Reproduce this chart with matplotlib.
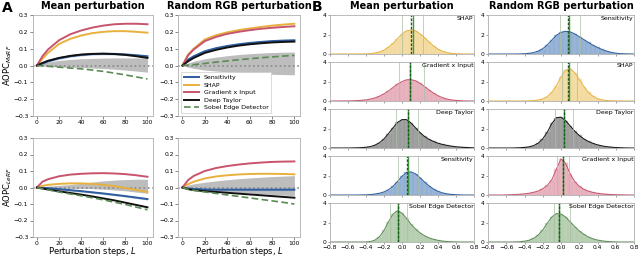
import numpy as np
import matplotlib.pyplot as plt

# ---------------- panel A data: AOPC vs perturbation steps ----------------
steps = [0, 5, 10, 20, 30, 40, 50, 60, 70, 80, 90, 100]

# MoRF, mean perturbation
morf_mean_sens = [0, 0.012, 0.025, 0.043, 0.055, 0.063, 0.068, 0.070, 0.069, 0.066, 0.061, 0.055]
morf_mean_shap = [0, 0.040, 0.075, 0.128, 0.158, 0.178, 0.192, 0.200, 0.204, 0.204, 0.200, 0.195]
morf_mean_gxi = [0, 0.055, 0.095, 0.150, 0.185, 0.208, 0.225, 0.237, 0.245, 0.248, 0.248, 0.245]
morf_mean_dt = [0, 0.015, 0.028, 0.045, 0.057, 0.065, 0.069, 0.070, 0.068, 0.063, 0.055, 0.045]
morf_mean_sobel = [0, -0.002, -0.005, -0.010, -0.015, -0.020, -0.027, -0.035, -0.045, -0.056, -0.068, -0.080]
morf_mean_rand_hi = [0, 0.012, 0.020, 0.030, 0.036, 0.040, 0.042, 0.044, 0.045, 0.045, 0.045, 0.045]
morf_mean_rand_lo = [0, -0.003, -0.005, -0.008, -0.010, -0.012, -0.015, -0.018, -0.022, -0.027, -0.033, -0.040]

# MoRF, random RGB perturbation
morf_rgb_sens = [0, 0.035, 0.055, 0.085, 0.103, 0.116, 0.126, 0.134, 0.140, 0.145, 0.148, 0.150]
morf_rgb_shap = [0, 0.065, 0.100, 0.155, 0.180, 0.197, 0.210, 0.220, 0.229, 0.237, 0.243, 0.248]
morf_rgb_gxi = [0, 0.060, 0.095, 0.145, 0.170, 0.188, 0.200, 0.210, 0.218, 0.224, 0.229, 0.233]
morf_rgb_dt = [0, 0.025, 0.045, 0.075, 0.093, 0.107, 0.118, 0.126, 0.132, 0.137, 0.140, 0.142]
morf_rgb_sobel = [0, 0.002, 0.005, 0.012, 0.020, 0.027, 0.034, 0.040, 0.046, 0.051, 0.056, 0.060]
morf_rgb_rand_hi = [0, 0.015, 0.025, 0.040, 0.050, 0.058, 0.065, 0.070, 0.074, 0.077, 0.079, 0.080]
morf_rgb_rand_lo = [0, -0.010, -0.017, -0.027, -0.033, -0.038, -0.042, -0.046, -0.049, -0.052, -0.054, -0.055]

# LeRF, mean perturbation
lerf_mean_sens = [0, -0.002, -0.004, -0.010, -0.016, -0.022, -0.029, -0.036, -0.044, -0.052, -0.061, -0.070]
lerf_mean_shap = [0, 0.010, 0.016, 0.022, 0.025, 0.025, 0.022, 0.016, 0.008, -0.003, -0.015, -0.028]
lerf_mean_gxi = [0, 0.035, 0.050, 0.068, 0.078, 0.083, 0.086, 0.087, 0.085, 0.081, 0.074, 0.065]
lerf_mean_dt = [0, -0.006, -0.012, -0.023, -0.033, -0.043, -0.054, -0.066, -0.078, -0.092, -0.106, -0.120]
lerf_mean_sobel = [0, -0.007, -0.014, -0.027, -0.039, -0.050, -0.062, -0.075, -0.089, -0.103, -0.119, -0.135]
lerf_mean_rand_hi = [0, 0.004, 0.008, 0.013, 0.018, 0.025, 0.033, 0.040, 0.045, 0.048, 0.050, 0.050]
lerf_mean_rand_lo = [0, -0.002, -0.003, -0.005, -0.005, -0.005, -0.007, -0.010, -0.015, -0.020, -0.028, -0.035]

# LeRF, random RGB perturbation
lerf_rgb_sens = [0, -0.006, -0.009, -0.012, -0.013, -0.013, -0.013, -0.013, -0.013, -0.013, -0.013, -0.013]
lerf_rgb_shap = [0, 0.020, 0.035, 0.055, 0.067, 0.074, 0.079, 0.082, 0.083, 0.083, 0.082, 0.080]
lerf_rgb_gxi = [0, 0.045, 0.070, 0.100, 0.118, 0.130, 0.139, 0.146, 0.151, 0.155, 0.157, 0.158]
lerf_rgb_dt = [0, -0.010, -0.016, -0.022, -0.027, -0.032, -0.037, -0.042, -0.047, -0.052, -0.057, -0.062]
lerf_rgb_sobel = [0, -0.010, -0.017, -0.027, -0.036, -0.045, -0.054, -0.063, -0.072, -0.081, -0.090, -0.100]
lerf_rgb_rand_hi = [0, 0.015, 0.022, 0.032, 0.040, 0.047, 0.053, 0.058, 0.062, 0.066, 0.069, 0.072]
lerf_rgb_rand_lo = [0, -0.008, -0.012, -0.018, -0.022, -0.026, -0.030, -0.034, -0.038, -0.042, -0.046, -0.050]

# ---------------- panel B data: densities on a 0.05 grid ----------------
grid = np.round(np.arange(-0.8, 0.801, 0.05), 2)

shap_mean_pdf = [0, 0, 0, 0, 0, 0, 0.01, 0.01, 0.02, 0.04, 0.10, 0.20, 0.40, 0.70, 1.10, 1.60, 2.05,
                 2.40, 2.50, 2.40, 2.10, 1.70, 1.25, 0.85, 0.50, 0.28, 0.14, 0.06, 0.03, 0.01, 0, 0, 0]
gxi_mean_pdf = [0, 0, 0, 0.01, 0.01, 0.02, 0.04, 0.07, 0.12, 0.20, 0.32, 0.50, 0.75, 1.05, 1.40, 1.75, 2.02,
                2.20, 2.22, 2.10, 1.85, 1.50, 1.15, 0.82, 0.55, 0.35, 0.20, 0.11, 0.06, 0.03, 0.01, 0, 0]
dt_mean_pdf = [0, 0, 0, 0, 0, 0.01, 0.02, 0.04, 0.08, 0.15, 0.30, 0.55, 0.95, 1.50, 2.10, 2.65, 2.95,
               2.95, 2.60, 2.10, 1.60, 1.20, 0.90, 0.68, 0.50, 0.37, 0.27, 0.19, 0.13, 0.09, 0.06, 0.04, 0.02]
sens_mean_pdf = [0, 0, 0, 0, 0, 0, 0, 0.01, 0.02, 0.05, 0.10, 0.18, 0.32, 0.55, 0.90, 1.40, 1.95,
                 2.35, 2.40, 2.20, 1.80, 1.35, 0.95, 0.62, 0.38, 0.22, 0.12, 0.06, 0.03, 0.01, 0, 0, 0]
sobel_mean_pdf = [0, 0, 0, 0, 0, 0, 0, 0, 0.01, 0.05, 0.20, 0.55, 1.20, 2.10, 2.90, 3.25, 3.00,
                  2.45, 1.85, 1.35, 0.95, 0.65, 0.43, 0.28, 0.17, 0.10, 0.05, 0.02, 0.01, 0, 0, 0, 0]

sens_rgb_pdf = [0, 0, 0, 0, 0, 0, 0, 0.01, 0.03, 0.07, 0.15, 0.30, 0.55, 0.95, 1.45, 1.95, 2.25,
                2.35, 2.30, 2.10, 1.80, 1.50, 1.20, 0.92, 0.68, 0.47, 0.30, 0.17, 0.09, 0.04, 0.02, 0.01, 0]
shap_rgb_pdf = [0, 0, 0, 0, 0, 0, 0, 0, 0, 0.01, 0.04, 0.10, 0.22, 0.45, 0.90, 1.60, 2.50,
                3.20, 3.35, 2.95, 2.25, 1.50, 0.90, 0.50, 0.25, 0.12, 0.05, 0.02, 0.01, 0, 0, 0, 0]
dt_rgb_pdf = [0, 0, 0, 0, 0, 0, 0.01, 0.03, 0.06, 0.12, 0.25, 0.50, 0.95, 1.65, 2.55, 3.15, 3.20,
              2.85, 2.30, 1.75, 1.30, 0.95, 0.68, 0.48, 0.33, 0.22, 0.14, 0.09, 0.05, 0.03, 0.01, 0, 0]
gxi_rgb_pdf = [0, 0, 0, 0, 0.01, 0.03, 0.05, 0.08, 0.12, 0.18, 0.28, 0.42, 0.65, 1.00, 1.60, 2.70, 3.75,
               3.30, 2.20, 1.40, 0.90, 0.60, 0.40, 0.27, 0.18, 0.12, 0.08, 0.05, 0.03, 0.02, 0.01, 0, 0]
sobel_rgb_pdf = [0, 0, 0, 0, 0, 0, 0.01, 0.03, 0.08, 0.18, 0.38, 0.72, 1.25, 1.95, 2.60, 2.95, 2.90,
                 2.60, 2.10, 1.60, 1.15, 0.80, 0.52, 0.33, 0.20, 0.12, 0.06, 0.03, 0.01, 0, 0, 0, 0]

# lower quartile, median, mean, upper quartile
shap_mean_stats = [0.0, 0.10, 0.12, 0.23]
gxi_mean_stats = [-0.03, 0.085, 0.09, 0.24]
dt_mean_stats = [-0.065, 0.064, 0.07, 0.18]
sens_mean_stats = [-0.05, 0.06, 0.065, 0.18]
sobel_mean_stats = [-0.13, -0.045, -0.04, 0.05]
sens_rgb_stats = [-0.015, 0.08, 0.09, 0.21]
shap_rgb_stats = [0.016, 0.08, 0.085, 0.17]
dt_rgb_stats = [-0.07, 0.03, 0.035, 0.13]
gxi_rgb_stats = [-0.04, 0.02, 0.025, 0.09]
sobel_rgb_stats = [-0.08, -0.025, -0.02, 0.10]

# colours: line, fill
col = {'Sensitivity': ('#2d5d9f', '#7fa2cd'),
       'SHAP': ('#e8b03c', '#f2d58f'),
       'Gradient x Input': ('#c8536d', '#e2a1b0'),
       'Deep Taylor': ('#111111', '#8a8a8a'),
       'Sobel Edge Detector': ('#5b8a55', '#a9c5a2')}

plt.rcParams['font.family'] = 'DejaVu Sans'
plt.rcParams['axes.linewidth'] = 0.6
plt.rcParams['axes.edgecolor'] = '#b0b0b0'

W, H = 640.0, 258.0
fig = plt.figure(figsize=(6.4, 2.58), dpi=100)


def px_axes(x0, y0, x1, y1):
    return fig.add_axes([x0 / W, 1 - y1 / H, (x1 - x0) / W, (y1 - y0) / H])


# ---------------- panel A ----------------
a_panels = [
    (32.5, 15, 153, 116, morf_mean_sens, morf_mean_shap, morf_mean_gxi, morf_mean_dt, morf_mean_sobel,
     morf_mean_rand_hi, morf_mean_rand_lo),
    (178, 15, 300, 116, morf_rgb_sens, morf_rgb_shap, morf_rgb_gxi, morf_rgb_dt, morf_rgb_sobel,
     morf_rgb_rand_hi, morf_rgb_rand_lo),
    (32.5, 138, 153, 237, lerf_mean_sens, lerf_mean_shap, lerf_mean_gxi, lerf_mean_dt, lerf_mean_sobel,
     lerf_mean_rand_hi, lerf_mean_rand_lo),
    (178, 138, 300, 237, lerf_rgb_sens, lerf_rgb_shap, lerf_rgb_gxi, lerf_rgb_dt, lerf_rgb_sobel,
     lerf_rgb_rand_hi, lerf_rgb_rand_lo),
]
a_axes = []
for (x0, y0, x1, y1, sens, shap, gxi, dt, sobel, hi, lo) in a_panels:
    ax = px_axes(x0, y0, x1, y1)
    ax.fill_between(steps, lo, hi, color='#bdbdbd', lw=0)
    ax.axhline(0, color='#888888', ls=':', lw=1.2)
    sens_a = np.array(sens)
    ax.fill_between(steps, sens_a - 0.006, sens_a + 0.006, color=col['Sensitivity'][1], lw=0, alpha=0.6)
    ax.plot(steps, sens, color=col['Sensitivity'][0], lw=1.4, label='Sensitivity')
    ax.plot(steps, shap, color=col['SHAP'][0], lw=1.4, label='SHAP')
    ax.plot(steps, gxi, color=col['Gradient x Input'][0], lw=1.4, label='Gradient x Input')
    ax.plot(steps, dt, color=col['Deep Taylor'][0], lw=1.4, label='Deep Taylor')
    ax.plot(steps, sobel, color=col['Sobel Edge Detector'][0], lw=1.2, ls=(0, (4, 2)),
            label='Sobel Edge Detector')
    ax.set_xlim(-4, 105)
    ax.set_ylim(-0.3, 0.3)
    ax.set_xticks([0, 20, 40, 60, 80, 100])
    ax.set_yticks([-0.3, -0.2, -0.1, 0.0, 0.1, 0.2, 0.3])
    ax.tick_params(labelsize=4.3, length=2, width=0.5, pad=1, color='#555555')
    a_axes.append(ax)

a_axes[0].set_title('Mean perturbation', fontsize=7, fontweight='bold', pad=4)
a_axes[1].set_title('Random RGB perturbation', fontsize=7, fontweight='bold', pad=4)
a_axes[0].set_ylabel('AOPC$_{MoRF}$', fontsize=6)
a_axes[2].set_ylabel('AOPC$_{LeRF}$', fontsize=6)
for ax in (a_axes[0], a_axes[2]):
    ax.yaxis.set_label_coords(-0.152, 0.5)
for ax in (a_axes[2], a_axes[3]):
    ax.set_xlabel('Perturbation steps, $L$', fontsize=6)
    ax.xaxis.set_label_coords(0.5, -0.085)
leg = a_axes[1].legend(loc='lower left', fontsize=4.5, handlelength=2.4, borderpad=0.4,
                       labelspacing=0.35, framealpha=1, edgecolor='#cccccc', fancybox=False)
leg.get_frame().set_linewidth(0.5)

# ---------------- panel B ----------------
b_left = [('SHAP', shap_mean_pdf, shap_mean_stats),
          ('Gradient x Input', gxi_mean_pdf, gxi_mean_stats),
          ('Deep Taylor', dt_mean_pdf, dt_mean_stats),
          ('Sensitivity', sens_mean_pdf, sens_mean_stats),
          ('Sobel Edge Detector', sobel_mean_pdf, sobel_mean_stats)]
b_right = [('Sensitivity', sens_rgb_pdf, sens_rgb_stats),
           ('SHAP', shap_rgb_pdf, shap_rgb_stats),
           ('Deep Taylor', dt_rgb_pdf, dt_rgb_stats),
           ('Gradient x Input', gxi_rgb_pdf, gxi_rgb_stats),
           ('Sobel Edge Detector', sobel_rgb_pdf, sobel_rgb_stats)]
row_tops = [15, 62, 109, 156, 203]
row_h = 39

for cx0, cx1, rows, title in [(330, 474, b_left, 'Mean perturbation'),
                              (488, 634, b_right, 'Random RGB perturbation')]:
    for i, (name, pdf, stats) in enumerate(rows):
        ax = px_axes(cx0, row_tops[i], cx1, row_tops[i] + row_h)
        line_c, fill_c = col[name]
        ax.bar(grid, pdf, width=0.05, color=fill_c, alpha=0.55, edgecolor=fill_c, lw=0.3)
        ax.fill_between(grid, 0, pdf, color=fill_c, alpha=0.55, lw=0)
        ax.plot(grid, pdf, color=line_c, lw=0.7)
        q1, med, mean, q3 = stats
        ax.axvline(q1, color='#a9bda4', lw=0.5)
        ax.axvline(q3, color='#a9bda4', lw=0.5)
        ax.axvline(mean, color='#3f9a3f', lw=1.0)
        ax.axvline(med, color='#1e5a1e', lw=1.0, ls=(0, (2, 1)))
        ax.set_xlim(-0.8, 0.8)
        ax.set_ylim(0, 4.05)
        ax.set_yticks([0, 2, 4])
        ax.set_xticks(np.round(np.arange(-0.8, 0.81, 0.2), 1))
        ax.tick_params(labelsize=4.3, length=1.5, width=0.5, pad=1, color='#777777')
        if i < 4:
            ax.set_xticklabels([])
        ax.text(0.995, 0.97, name, transform=ax.transAxes, ha='right', va='top', fontsize=4.5)
        if i == 0:
            ax.set_title(title, fontsize=7, fontweight='bold', pad=4)

fig.text(2 / W, 1 - 8 / H, 'A', fontsize=10, fontweight='bold', va='center')
fig.text(312 / W, 1 - 7 / H, 'B', fontsize=10, fontweight='bold', va='center')

fig.savefig('out.png', dpi=100)
